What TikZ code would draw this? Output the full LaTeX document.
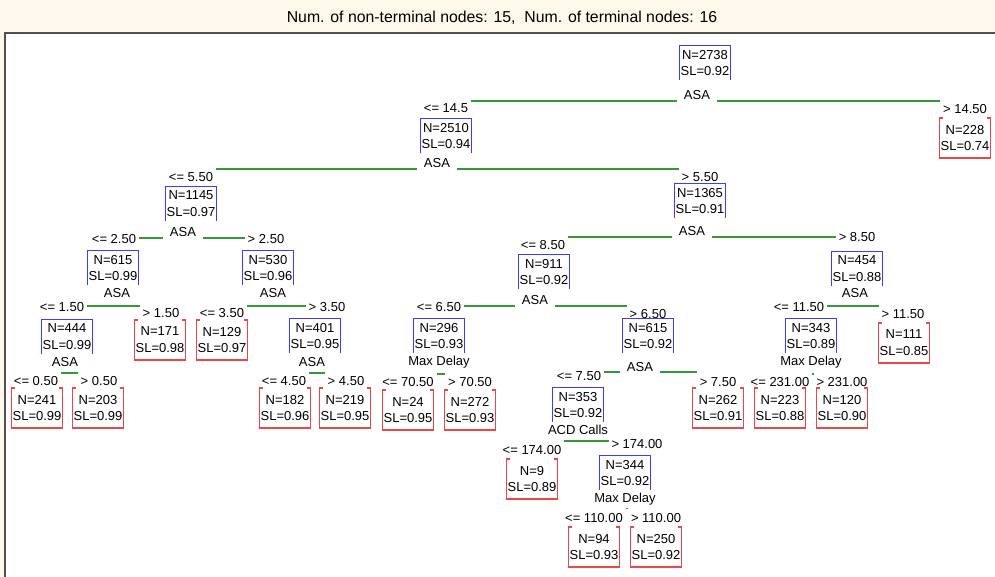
\documentclass[tikz,border=0pt]{standalone}
\usepackage{fontspec}
\setmainfont{Liberation Sans}
\usetikzlibrary{backgrounds}
\definecolor{innerc}{RGB}{60,60,250}
\definecolor{leafc}{RGB}{238,70,70}
\definecolor{edgec}{RGB}{55,150,55}
\definecolor{framec}{RGB}{80,80,80}
\definecolor{paperc}{RGB}{255,249,236}

\tikzset{
  boxtext/.style={align=center, inner sep=0pt, minimum width=1cm,
    font=\fontsize{7.4}{9.6}\selectfont},
  innerbox/.style={boxtext, minimum height=0.68cm},
  leafbox/.style={boxtext, minimum height=0.78cm},
  splitlbl/.style={fill=white, inner xsep=4pt, inner ysep=1.5pt,
    font=\fontsize{7.4}{8}\selectfont},
  condlbl/.style={inner sep=1.5pt, font=\fontsize{7.4}{8}\selectfont},
  splitline/.style={edgec, line width=0.85pt},
}

% blue bracket: sides and top
\newcommand{\innernode}[4]{%
  \node[innerbox] (#1) at (#2,#3) {#4};
  \draw[innerc, line width=0.95pt] (#1.south west) -- (#1.north west)
    -- (#1.north east) -- (#1.south east);
}
% red bracket: sides, bottom, top ticks
\newcommand{\leafnode}[4]{%
  \node[leafbox] (#1) at (#2,#3) {#4};
  \draw[leafc, line width=0.95pt] ([xshift=2pt]#1.north west) -- (#1.north west)
    -- (#1.south west) -- (#1.south east) -- (#1.north east)
    -- ([xshift=-2pt]#1.north east);
}
% green split line from left condition to right condition at height y
\newcommand{\splitlines}[3]{%
  \draw[splitline] (#1.east |- 0,#3) -- (#2.west |- 0,#3);
}

\begin{document}
\begin{tikzpicture}[x=0.02cm, y=-0.02cm]
  \useasboundingbox (0,0) rectangle (995,576);

  % window: cream margin, white plot, dark frame
  \begin{scope}[on background layer]
    \fill[paperc] (0,0) rectangle (995,576);
    \fill[white] (5,33) rectangle (995,576);
    \draw[framec, line width=1.3pt] (5,577) -- (5,33) -- (996,33);
  \end{scope}

  \node[font=\fontsize{9}{11}\selectfont] (title) at (502,18)
    {Num. of non-terminal nodes: 15,\ \ Num. of terminal nodes: 16};

  % non-terminal nodes
  \innernode{n0}{705}{63}{N=2738\\SL=0.92}
  \innernode{n1}{446}{136}{N=2510\\SL=0.94}
  \innernode{n2}{191}{204}{N=1145\\SL=0.97}
  \innernode{n3}{700}{201}{N=1365\\SL=0.91}
  \innernode{n4}{113}{268}{N=615\\SL=0.99}
  \innernode{n5}{268}{268}{N=530\\SL=0.96}
  \innernode{n6}{544}{272}{N=911\\SL=0.92}
  \innernode{n7}{857}{269}{N=454\\SL=0.88}
  \innernode{n8}{67}{337}{N=444\\SL=0.99}
  \innernode{n9}{315}{336}{N=401\\SL=0.95}
  \innernode{n10}{439}{336}{N=296\\SL=0.93}
  \innernode{n11}{648}{336}{N=615\\SL=0.92}
  \innernode{n12}{811}{336}{N=343\\SL=0.89}
  \innernode{n13}{578}{405}{N=353\\SL=0.92}
  \innernode{n14}{625}{473}{N=344\\SL=0.92}

  % terminal nodes
  \leafnode{t1}{965}{138}{N=228\\SL=0.74}
  \leafnode{t2}{160}{340}{N=171\\SL=0.98}
  \leafnode{t3}{222}{340}{N=129\\SL=0.97}
  \leafnode{t4}{904}{343}{N=111\\SL=0.85}
  \leafnode{t5}{37}{408}{N=241\\SL=0.99}
  \leafnode{t6}{98}{408}{N=203\\SL=0.99}
  \leafnode{t7}{285}{408}{N=182\\SL=0.96}
  \leafnode{t8}{345}{408}{N=219\\SL=0.95}
  \leafnode{t9}{408}{410}{N=24\\SL=0.95}
  \leafnode{t10}{470}{410}{N=272\\SL=0.93}
  \leafnode{t11}{718}{408}{N=262\\SL=0.91}
  \leafnode{t12}{780}{408}{N=223\\SL=0.88}
  \leafnode{t13}{842}{408}{N=120\\SL=0.90}
  \leafnode{t14}{532}{479}{N=9\\SL=0.89}
  \leafnode{t15}{594}{547}{N=94\\SL=0.93}
  \leafnode{t16}{656}{547}{N=250\\SL=0.92}

  % split variables
  \node[splitlbl] (s0) at (697,95) {ASA};
  \node[splitlbl] (s1) at (437,163) {ASA};
  \node[splitlbl] (s2) at (183,232) {ASA};
  \node[splitlbl] (s3) at (692,231) {ASA};
  \node[splitlbl] (s4) at (117,293) {ASA};
  \node[splitlbl] (s5) at (273,293) {ASA};
  \node[splitlbl] (s6) at (535,300) {ASA};
  \node[splitlbl] (s7) at (855,293) {ASA};
  \node[splitlbl] (s8) at (65,362) {ASA};
  \node[splitlbl] (s9) at (312,362) {ASA};
  \node[splitlbl] (s10) at (439,362) {Max Delay};
  \node[splitlbl] (s11) at (640,367) {ASA};
  \node[splitlbl] (s12) at (811,362) {Max Delay};
  \node[splitlbl] (s13) at (578,430) {ACD Calls};
  \node[splitlbl] (s14) at (625,499) {Max Delay};

  % split conditions
  \node[condlbl] (c1) at (446,108) {<= 14.5};
  \node[condlbl] (c2) at (965,109) {> 14.50};
  \node[condlbl] (c3) at (191,177) {<= 5.50};
  \node[condlbl] (c4) at (700,177) {> 5.50};
  \node[condlbl] (c5) at (114,239) {<= 2.50};
  \node[condlbl] (c6) at (266,239) {> 2.50};
  \node[condlbl] (c7) at (543,245) {<= 8.50};
  \node[condlbl] (c8) at (857,237) {> 8.50};
  \node[condlbl] (c9) at (62,307) {<= 1.50};
  \node[condlbl] (c10) at (161,313) {> 1.50};
  \node[condlbl] (c11) at (222,313) {<= 3.50};
  \node[condlbl] (c12) at (327,307) {> 3.50};
  \node[condlbl] (c13) at (439,307) {<= 6.50};
  \node[condlbl] (c14) at (648,314) {> 6.50};
  \node[condlbl] (c15) at (799,307) {<= 11.50};
  \node[condlbl] (c16) at (903,314) {> 11.50};
  \node[condlbl] (c17) at (36,381) {<= 0.50};
  \node[condlbl] (c18) at (99,381) {> 0.50};
  \node[condlbl] (c19) at (284,381) {<= 4.50};
  \node[condlbl] (c20) at (346,381) {> 4.50};
  \node[condlbl] (c21) at (408,382) {<= 70.50};
  \node[condlbl] (c22) at (470,382) {> 70.50};
  \node[condlbl] (c23) at (579,376) {<= 7.50};
  \node[condlbl] (c24) at (718,382) {> 7.50};
  \node[condlbl] (c25) at (780,382) {<= 231.00};
  \node[condlbl] (c26) at (842,382) {> 231.00};
  \node[condlbl] (c27) at (532,450) {<= 174.00};
  \node[condlbl] (c28) at (637,444) {> 174.00};
  \node[condlbl] (c29) at (594,518) {<= 110.00};
  \node[condlbl] (c30) at (656,518) {> 110.00};

  % green split lines, behind the split labels
  \begin{scope}[on background layer]
    \splitlines{c1}{c2}{101}
    \splitlines{c3}{c4}{169}
    \splitlines{c5}{c6}{238}
    \splitlines{c7}{c8}{237}
    \splitlines{c9}{c10}{306}
    \splitlines{c11}{c12}{306}
    \splitlines{c13}{c14}{306}
    \splitlines{c15}{c16}{306}
    \splitlines{c17}{c18}{373}
    \splitlines{c19}{c20}{373}
    \splitlines{c21}{c22}{374}
    \splitlines{c23}{c24}{372}
    \splitlines{c25}{c26}{374}
    \splitlines{c27}{c28}{441}
    \splitlines{c29}{c30}{508}
  \end{scope}
\end{tikzpicture}
\end{document}
